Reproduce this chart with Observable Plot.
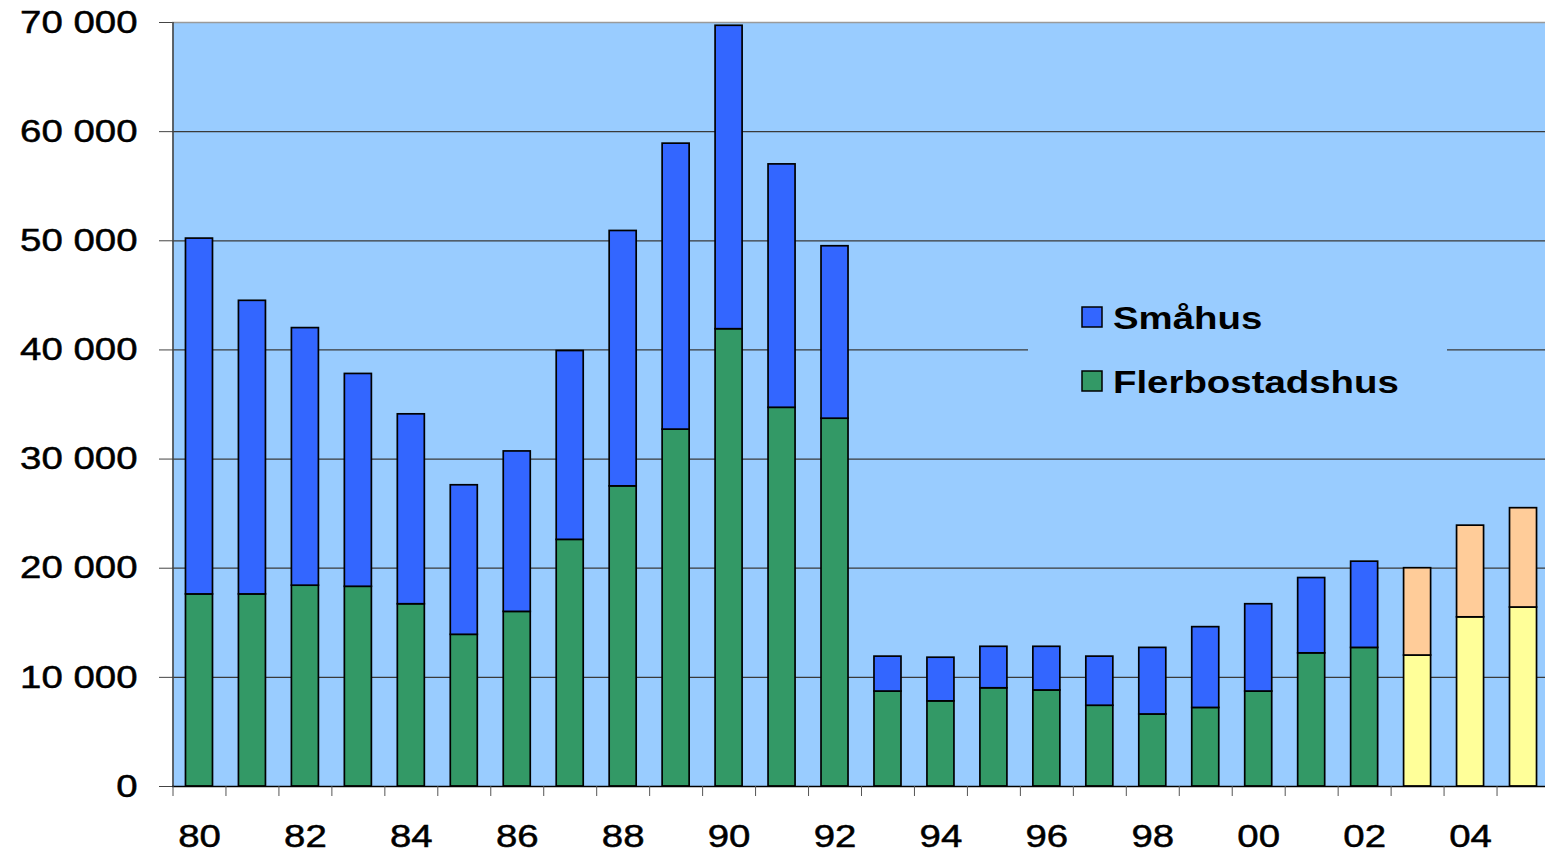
<!DOCTYPE html>
<html>
<head>
<meta charset="utf-8">
<script src="https://cdn.jsdelivr.net/npm/d3@7"></script>
<script src="https://cdn.jsdelivr.net/npm/@observablehq/plot@0.6"></script>
<style>
  body { margin: 0; background: #fff; }
  #wrap { position: relative; width: 1545px; height: 853px; overflow: hidden; }
  #legend { position: absolute; left: 0; top: 0; pointer-events: none; }
</style>
</head>
<body>
<div id="wrap"></div>
<script>
// ---- data ----
const years = [1980,1981,1982,1983,1984,1985,1986,1987,1988,1989,1990,1991,1992,1993,1994,1995,1996,1997,1998,1999,2000,2001,2002,2003,2004,2005];
const flerbostadshus = [17600,17600,18400,18300,16700,13900,16000,22600,27500,32700,41900,34700,33700,8700,7800,9000,8800,7400,6600,7200,8700,12200,12700,12000,15500,16400];
const smahus = [32600,26900,23600,19500,17400,13700,14700,17300,23400,26200,27800,22300,15800,3200,4000,3800,4000,4500,6100,7400,8000,6900,7900,8000,8400,9100];
const forecastFrom = 2003;
const seriesNames = ["Småhus", "Flerbostadshus"];
const yTicks = [0,10000,20000,30000,40000,50000,60000,70000];
const labelYears = [1980,1982,1984,1986,1988,1990,1992,1994,1996,1998,2000,2002,2004];

const colors = {
  "Flerbostadshus": "#339966",
  "Småhus": "#3366FF",
  "Flerbostadshus-prognos": "#FFFF99",
  "Småhus-prognos": "#FFCC99"
};

const rows = [];
years.forEach((year, i) => {
  const f = year >= forecastFrom;
  rows.push({year, series: "Flerbostadshus", y1: 0, y2: flerbostadshus[i], key: f ? "Flerbostadshus-prognos" : "Flerbostadshus"});
  rows.push({year, series: "Småhus", y1: flerbostadshus[i], y2: flerbostadshus[i] + smahus[i], key: f ? "Småhus-prognos" : "Småhus"});
});
const boundaries = years.map(y => y - 0.5).concat([years[years.length - 1] + 0.5]);

const font = '"Liberation Sans", Arial, sans-serif';

const plot = Plot.plot({
  width: 1545,
  height: 853,
  marginLeft: 172,
  marginRight: 0,
  marginTop: 22,
  marginBottom: 67,
  style: { fontFamily: font, fontSize: "32px", color: "#000", background: "#fff", overflow: "visible" },
  x: { type: "linear", domain: [1979.5, 2005.5], range: [172.5, 1549.5], axis: null },
  y: { domain: [0, 70000], range: [786, 22], axis: null },
  marks: [
    Plot.frame({ fill: "#99CCFF", stroke: null }),
    Plot.ruleY(yTicks.filter(d => d > 0 && d < 70000), { stroke: "#3a3a3a", strokeWidth: 1.2 }),
    Plot.ruleY([70000], { stroke: "#9a9a9a", strokeWidth: 1.5 }),
    Plot.rectY(rows, {
      x1: d => d.year - 0.255,
      x2: d => d.year + 0.255,
      y1: "y1",
      y2: "y2",
      fill: d => colors[d.key],
      stroke: "#000",
      strokeWidth: 1.7
    }),
    Plot.ruleX([1979.5], { stroke: "#444", strokeWidth: 1.6 }),
    Plot.ruleY([0], { stroke: "#000", strokeWidth: 1.4 }),
    Plot.axisY({
      ticks: yTicks,
      tickSize: 13,
      tickPadding: 22,
      stroke: "#444",
      fontSize: 32,
      tickFormat: d => d3.format(",")(d).replace(/,/g, " ")
    }),
    Plot.axisX({ ticks: boundaries, tickSize: 10, tickFormat: () => "", stroke: "#555" }),
    Plot.axisX({
      ticks: labelYears,
      tickSize: 0,
      tickPadding: 38,
      fontSize: 32,
      tickFormat: d => String(d % 100).padStart(2, "0")
    })
  ]
});

// horizontally stretched, slightly heavier text like the reference
plot.querySelectorAll("text").forEach(t => {
  const tr = t.getAttribute("transform");
  if (tr) t.setAttribute("transform", tr + " scale(1.2,1)");
  t.setAttribute("stroke", "#000");
  t.setAttribute("stroke-width", "0.5");
});

const wrap = document.getElementById("wrap");
wrap.appendChild(plot);

// legend overlay
const NS = "http://www.w3.org/2000/svg";
const leg = document.createElementNS(NS, "svg");
leg.setAttribute("id", "legend");
leg.setAttribute("width", 1545);
leg.setAttribute("height", 853);
const bg = document.createElementNS(NS, "rect");
bg.setAttribute("x", 1028); bg.setAttribute("y", 292);
bg.setAttribute("width", 419); bg.setAttribute("height", 118);
bg.setAttribute("fill", "#99CCFF");
leg.appendChild(bg);
seriesNames.forEach((name, i) => {
  const top = 307 + i * 64;
  const sw = document.createElementNS(NS, "rect");
  sw.setAttribute("x", 1082); sw.setAttribute("y", top);
  sw.setAttribute("width", 20); sw.setAttribute("height", 20);
  sw.setAttribute("fill", colors[name]);
  sw.setAttribute("stroke", "#000"); sw.setAttribute("stroke-width", 1.5);
  leg.appendChild(sw);
  const tx = document.createElementNS(NS, "text");
  tx.setAttribute("transform", `translate(1113,${top + 22}) scale(1.2,1)`);
  tx.setAttribute("font-family", font);
  tx.setAttribute("font-size", 32);
  tx.setAttribute("font-weight", "bold");
  tx.setAttribute("fill", "#000");
  tx.textContent = name;
  leg.appendChild(tx);
});
wrap.appendChild(leg);
</script>
</body>
</html>
